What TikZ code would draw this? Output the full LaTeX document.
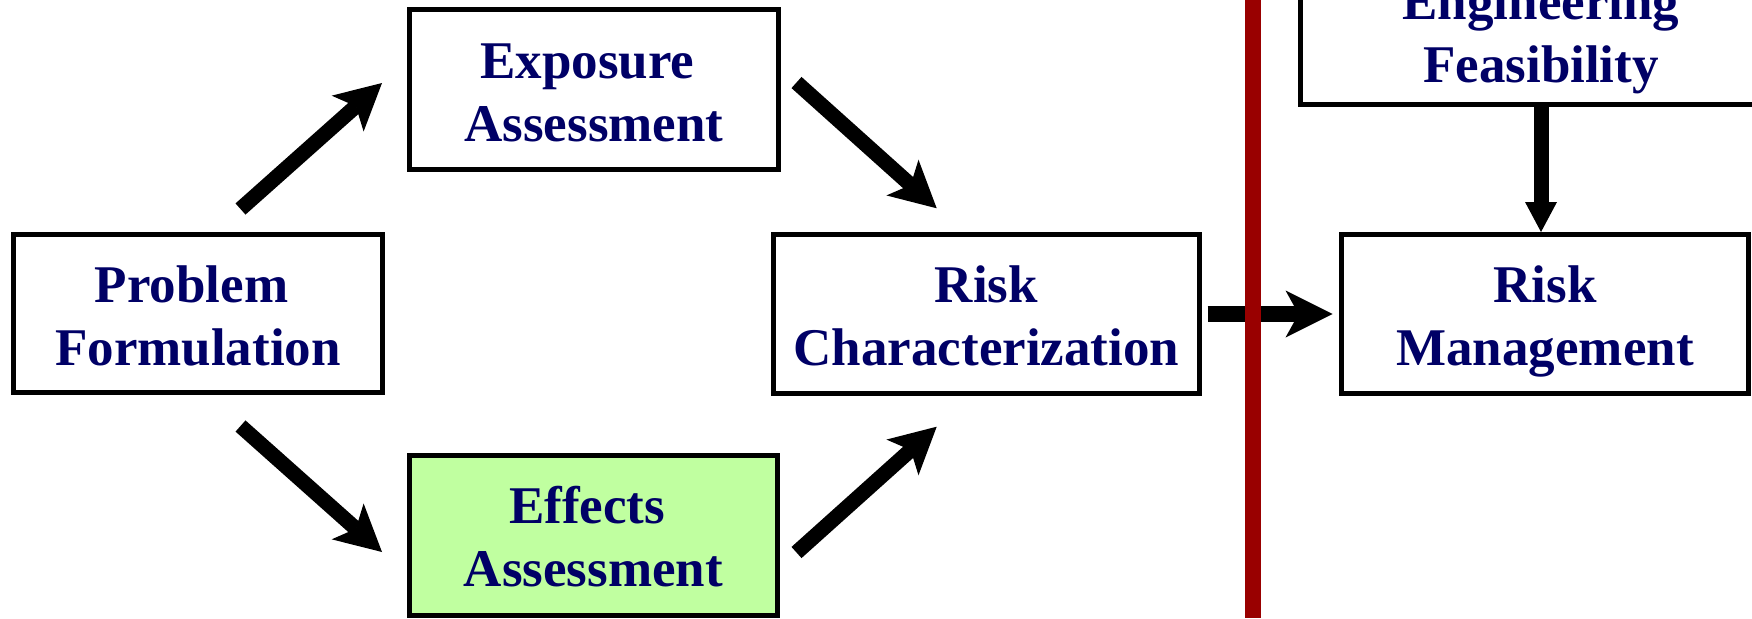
\documentclass[tikz,border=0pt]{standalone}
\usepackage{fontspec}
\setmainfont{Liberation Serif}
\usetikzlibrary{arrows.meta}
\definecolor{navytext}{RGB}{0,0,102}
\definecolor{effgreen}{RGB}{192,255,160}
\definecolor{divred}{RGB}{153,0,0}
\newcommand\mytopstrut{\rule{0pt}{55pt}}
\newcommand\mybotstrut{\rule[-15pt]{0pt}{15pt}}
\newcommand\trailgap{\rule{13pt}{0pt}}
\tikzset{
  stagebox/.style={draw=black, line width=5pt, inner sep=0pt, align=center,
    text=navytext, font=\fontsize{53}{63}\selectfont\bfseries},
  flowarrow/.style={line width=15pt, -{Stealth[length=46pt, width=48pt, inset=11pt, line width=0pt]}},
  droparrow/.style={line width=15pt, -{Triangle[length=30pt, width=32pt, line width=0pt]}},
}
\begin{document}
\begin{tikzpicture}[x=1pt,y=-1pt]
\useasboundingbox (0,0) rectangle (1752,618);
\clip (0,0) rectangle (1752,618);
\node[stagebox, minimum width=369pt, minimum height=158pt] (pf) at (198,313.5) {\mytopstrut Problem\trailgap\\Formulation\mybotstrut};
\node[stagebox, minimum width=369pt, minimum height=160pt] (ea) at (594,89.5) {\mytopstrut Exposure\trailgap\\Assessment\mybotstrut};
\node[stagebox, fill=effgreen, minimum width=368pt, minimum height=160pt] (eff) at (593.5,535) {\mytopstrut Effects\trailgap\\Assessment\mybotstrut};
\node[stagebox, minimum width=426pt, minimum height=159pt] (rc) at (986.5,314) {\mytopstrut Risk\\Characterization\mybotstrut};
\node[stagebox, minimum width=407pt, minimum height=159pt] (rm) at (1545,314) {\mytopstrut Risk\\Management\mybotstrut};
\node[stagebox, minimum width=481pt, minimum height=148pt] (ef) at (1541,30.5) {\mytopstrut Engineering\\Feasibility\mybotstrut};
\coordinate (a1s) at (240.5,209);
\coordinate (a1e) at (382,83);
\coordinate (a2s) at (796.5,82.5);
\coordinate (a2e) at (936.7,208.3);
\coordinate (a3s) at (240.5,426);
\coordinate (a3e) at (382,552);
\coordinate (a4s) at (796.5,552.5);
\coordinate (a4e) at (936.7,426.7);
\draw[flowarrow] (a1s) -- (a1e);
\draw[flowarrow] (a2s) -- (a2e);
\draw[flowarrow] (a3s) -- (a3e);
\draw[flowarrow] (a4s) -- (a4e);
\draw[line width=16pt, -{Stealth[length=47pt, width=47pt, inset=13pt, line width=0pt]}, shorten <=5.5pt, shorten >=6.5pt] (rc.east) -- (rm.west);
\draw[droparrow] (ef.south) -- (ef.south |- rm.north);
\coordinate (divtop) at (1253,0);
\coordinate (divbot) at (1253,618);
\draw[divred, line width=16pt] (divtop) -- (divbot);
\end{tikzpicture}
\end{document}
